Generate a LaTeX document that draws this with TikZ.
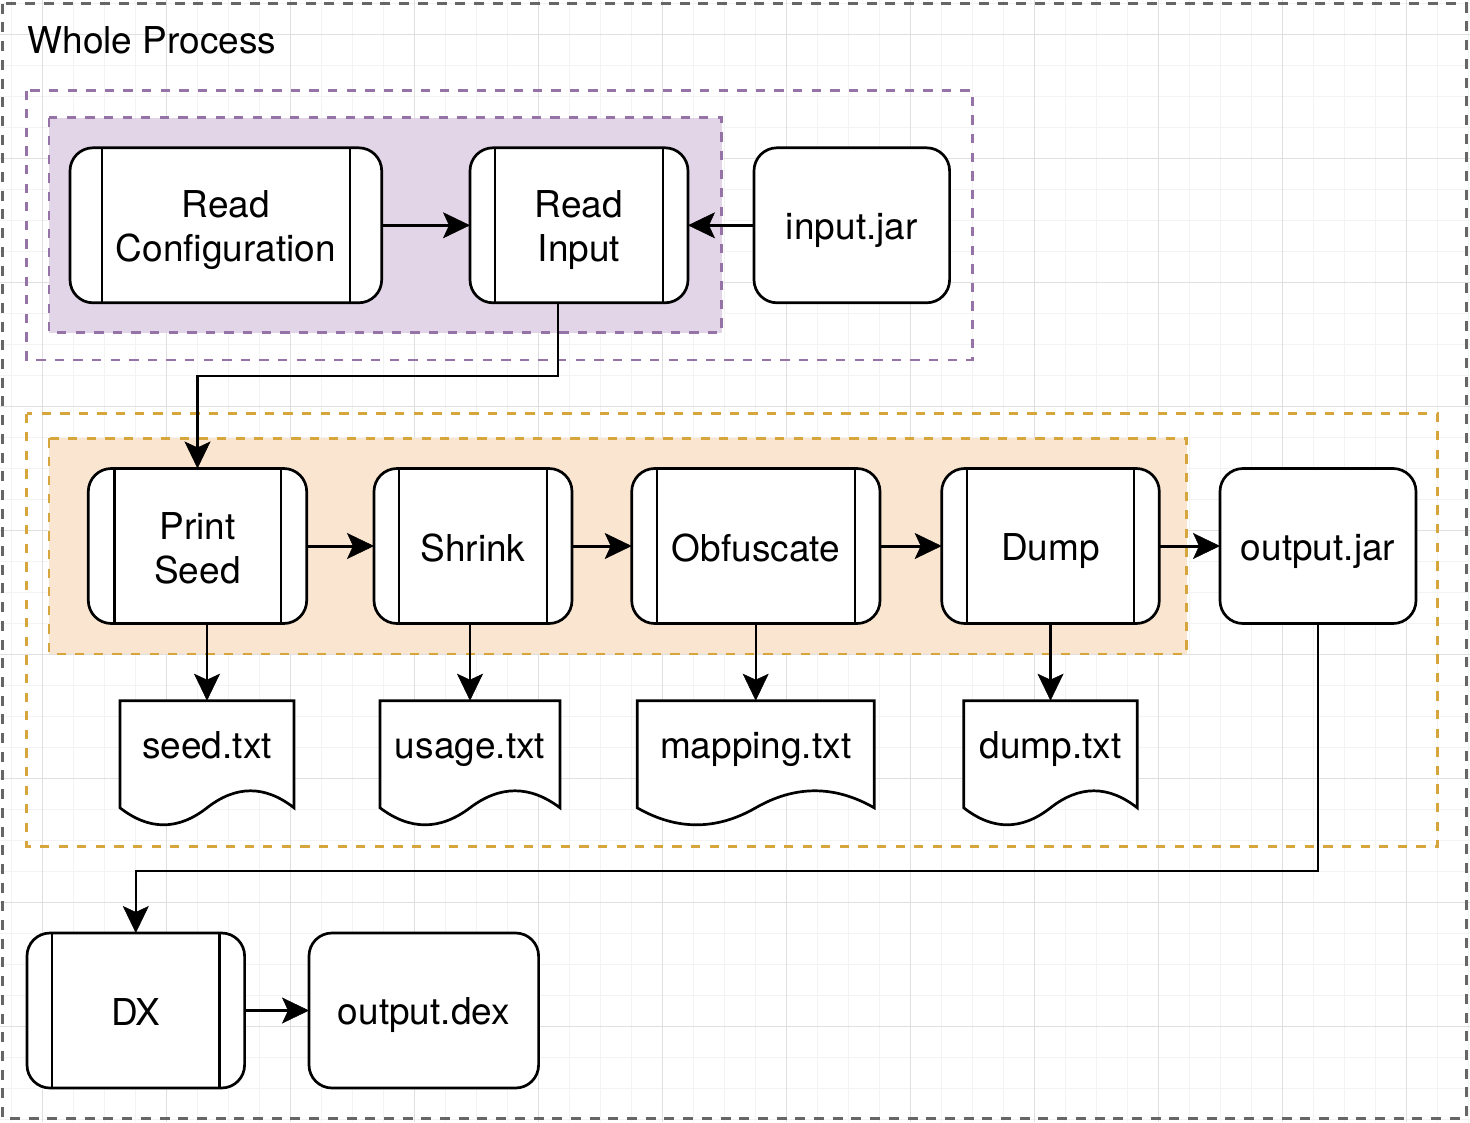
\documentclass[tikz,border=0pt]{standalone}
\usepackage{fontspec}
\setmainfont{TeX Gyre Heros}
\usetikzlibrary{arrows.meta,calc}
\pgfdeclarelayer{back}
\pgfdeclarelayer{mid}
\pgfsetlayers{back,mid,main}
\definecolor{gridmajor}{HTML}{DFDFDF}
\definecolor{gridminor}{HTML}{F3F3F3}
\definecolor{grayline}{HTML}{666666}
\definecolor{purpleline}{HTML}{9673A6}
\definecolor{purplefill}{HTML}{E1D5E7}
\definecolor{orangeline}{HTML}{D6A53B}
\definecolor{orangefill}{HTML}{FAE6D0}
\newcommand{\mystrut}{\rule[-7pt]{0pt}{44pt}}
\tikzset{
  box/.style={draw=black, line width=2.7pt, fill=white, rounded corners=23pt,
    inner sep=0pt, outer sep=0pt, align=center, minimum height=155pt, minimum width=#1},
  docbox/.style={inner sep=0pt, outer sep=0pt, minimum height=126pt, minimum width=#1,
    text height=30pt, text depth=40.8pt},
  docline/.style={draw=black, line width=2.7pt, fill=white, line join=miter},
  sideline/.style={line width=2.4pt},
  arr/.style={-{Stealth[length=27pt,width=26pt,inset=6pt,line width=0.5pt]}, line width=3pt},
  arrv/.style={arr, line width=2.3pt},
  grouplabel/.style={anchor=base west, inner sep=0pt},
  outergroup/.style={draw=grayline, line width=3pt, dash pattern=on 10pt off 8.7pt},
  purplegroup/.style={draw=purpleline, line width=2.6pt, dash pattern=on 9.3pt off 9.3pt},
  orangegroup/.style={draw=orangeline, line width=2.6pt, dash pattern=on 9.3pt off 9.3pt},
}
\begin{document}
\begin{tikzpicture}[x=1pt, y=-1pt, font=\fontsize{37}{44}\selectfont]
\useasboundingbox (0,0) rectangle (1470,1122);
\begin{pgfonlayer}{back}
% background grid
\foreach \j in {0,...,47} \draw[gridminor, line width=1pt] ({11.3+31*\j},0) -- ({11.3+31*\j},1122);
\foreach \j in {0,...,36} \draw[gridminor, line width=1pt] (0,{3.3+31*\j}) -- (1470,{3.3+31*\j});
\foreach \k in {0,...,11} \draw[gridmajor, line width=1pt] ({42.3+124*\k},0) -- ({42.3+124*\k},1122);
\foreach \k in {0,...,8} \draw[gridmajor, line width=1pt] (0,{34.3+124*\k}) -- (1470,{34.3+124*\k});
% groups
\draw[outergroup] (2.7,3.7) rectangle (1466,1118.5);
\draw[purplegroup] (26.7,90.5) rectangle (972.7,360);
\draw[purplegroup, fill=purplefill] (49,117.5) rectangle (721.5,332.7);
\draw[orangegroup] (26.7,413.5) rectangle (1437.7,846.7);
\draw[orangegroup, fill=orangefill] (49,438.3) rectangle (1186.7,654);
\end{pgfonlayer}

\node[grouplabel] (title) at (27.5,53.3) {Whole Process};

% nodes
\node[box=311.7pt] (rc) at (225.85,225.3) {\mystrut Read\\\mystrut Configuration};
\node[box=218pt] (ri) at (579,225.3) {\mystrut Read\\\mystrut Input};
\node[box=195.6pt] (ij) at (851.8,225.3) {\mystrut input.jar};
\node[box=218.4pt] (ps) at (197.5,546) {\mystrut Print\\\mystrut Seed};
\node[box=198pt] (sh) at (473,546) {\mystrut Shrink};
\node[box=248.3pt] (ob) at (755.85,546) {\mystrut Obfuscate};
\node[box=217.6pt] (du) at (1050.5,546) {\mystrut Dump};
\node[box=196pt] (oj) at (1318,546) {\mystrut output.jar};
\node[box=217.6pt] (dx) at (135.8,1010.5) {\mystrut DX};
\node[box=229.6pt] (od) at (423.8,1010.5) {\mystrut output.dex};

% process side lines
\foreach \n/\d in {rc/31.7, ri/25, ps/26, sh/25, ob/25, du/25.5, dx/25}{
  \draw[sideline] ([xshift=\d pt]\n.north west) -- ([xshift=\d pt]\n.south west);
  \draw[sideline] ([xshift=-\d pt]\n.north east) -- ([xshift=-\d pt]\n.south east);
}

% documents
\node[docbox=174pt] (seedx) at (207,763.7) {seed.txt};
\node[docbox=180pt] (usagex) at (470,763.7) {usage.txt};
\node[docbox=237pt] (mappingx) at (755.7,763.7) {mapping.txt};
\node[docbox=173.5pt] (dumpx) at (1050.5,763.7) {dump.txt};
\begin{pgfonlayer}{mid}
\foreach \n/\w in {seed/174, usage/180, mapping/237, dump/173.5}{
  \draw[docline, shift={(\n x.north west)}] (0,0) -- (\w,0) -- (\w,107.1)
    .. controls ({\w*5/6},84.42) and ({\w*2/3},84.42) .. ({\w/2},107.1)
    .. controls ({\w/3},129.78) and ({\w/6},129.78) .. (0,107.1) -- cycle;
}
\end{pgfonlayer}

% connectors
\draw[arr] (rc.east) -- (ri.west);
\draw[arr] (ij.west) -- (ri.east);
\draw[arrv] ([xshift=-20.7pt]ri.south) -- ++(0,73) -| (ps.north);
\draw[arr] (ps.east) -- (sh.west);
\draw[arr] (sh.east) -- (ob.west);
\draw[arr] (ob.east) -- (du.west);
\draw[arr] (du.east) -- (oj.west);
\draw[arrv] (ps.south -| seedx.north) -- (seedx.north);
\draw[arrv] (sh.south -| usagex.north) -- (usagex.north);
\draw[arrv] (ob.south -| mappingx.north) -- (mappingx.north);
\draw[arrv] (du.south -| dumpx.north) -- (dumpx.north);
\draw[arrv] (oj.south) -- ++(0,247.7) -| (dx.north);
\draw[arr] (dx.east) -- (od.west);
\end{tikzpicture}
\end{document}
